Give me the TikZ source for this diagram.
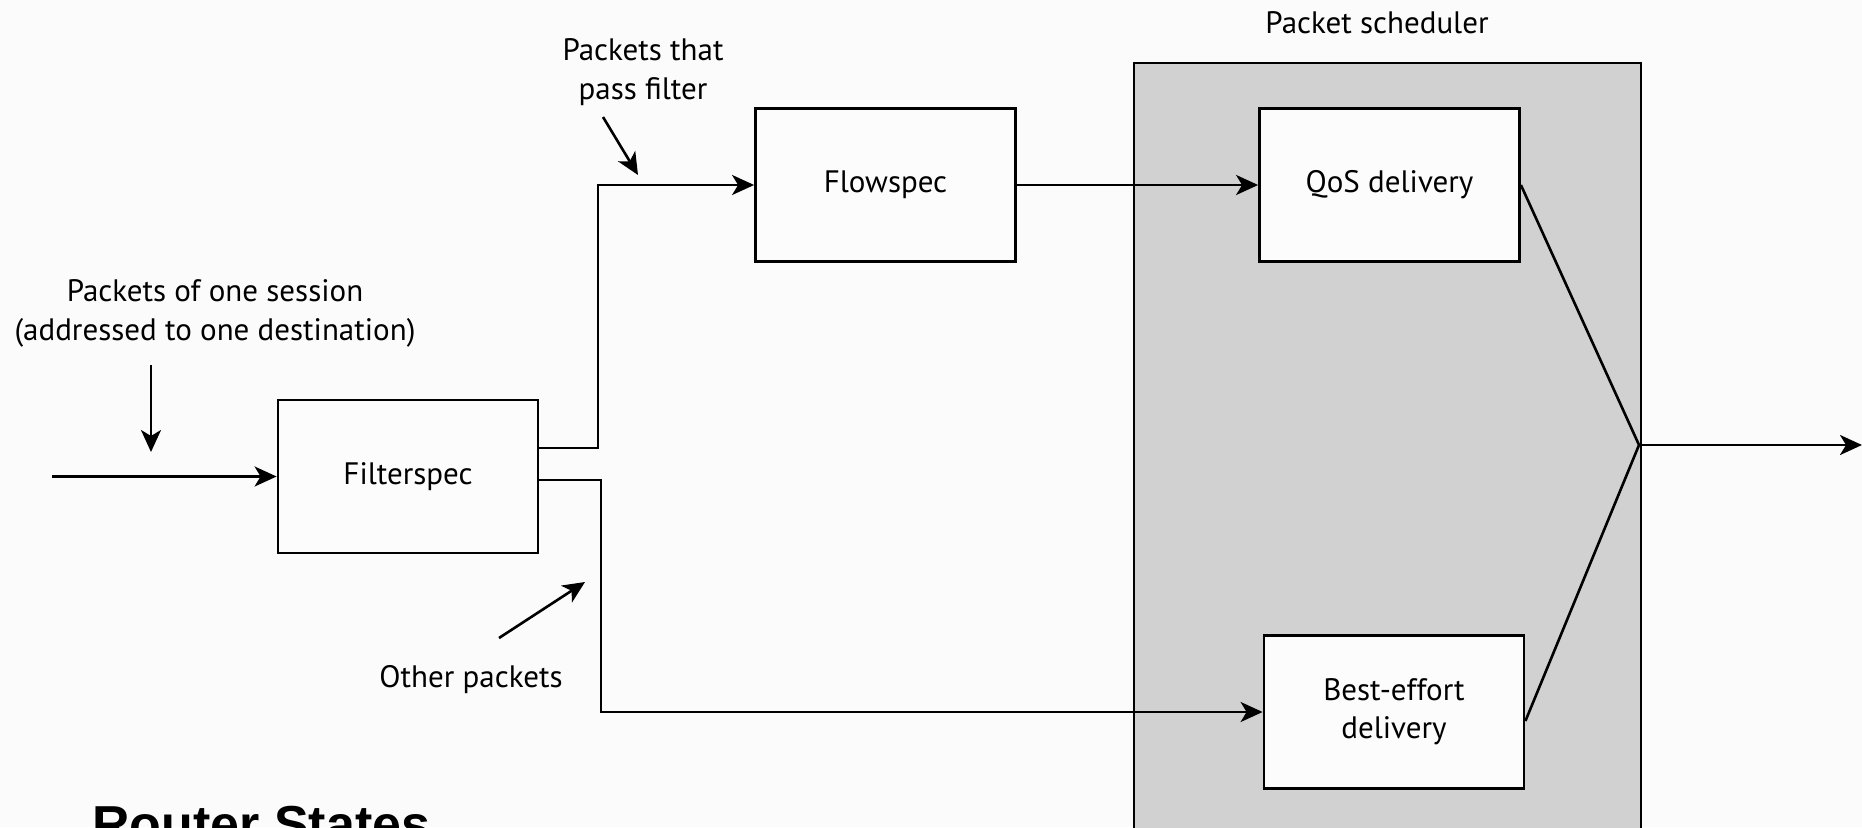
\documentclass[tikz,border=0pt]{standalone}
\usepackage{fontspec}
\setmainfont{PT Sans}
\newfontfamily\titlefont{Liberation Sans}
\usetikzlibrary{arrows.meta}
\begin{document}
\begin{tikzpicture}[x=1pt,y=-1pt,
  box/.style={draw=black, line width=2.8pt, fill=white!99!black, minimum width=260pt, minimum height=153pt, inner sep=0pt, font=\fontsize{31}{38}\selectfont, align=center},
  lbl/.style={font=\fontsize{31}{39}\selectfont, align=center, inner sep=0pt},
  conn/.style={line width=2.6pt},
  arr/.style={conn, -{Stealth[length=22pt,width=20pt,inset=6pt]}}]
\useasboundingbox (0,0) rectangle (1862,827);
\clip (0,0) rectangle (1862,827);
\fill[white!98.5!black] (0,0) rectangle (1862,827);
% packet scheduler area
\draw[fill=black!18, line width=2.6pt] (1134,63) rectangle (1641,860);
\node[lbl] (schedlbl) at (1377,23) {Packet scheduler};
% boxes
\node[box] (filt) at (408,476.5) {Filterspec};
\node[box] (flow) at (885.5,185) {Flowspec};
\node[box] (qos) at (1389.5,185) {QoS delivery};
\node[box] (best) at (1394,712) {Best-effort\\delivery};
% labels
\node[lbl] (sess) at (215,313) {Packets of one session\\(addressed to one destination)};
\node[lbl] (pass) at (643,72) {Packets that\\pass filter};
\node[lbl] (other) at (471,680) {Other packets};
\node[anchor=base west, inner sep=0pt, font=\titlefont\bfseries\fontsize{52}{60}\selectfont] (title) at (92,842) {Router States};
% coordinates
\coordinate (in) at (52,476.5);
\coordinate (d1) at (151,365);
\coordinate (d2) at (151,452);
\coordinate (p1) at (603,117);
\coordinate (p2) at (638,175);
\coordinate (o1) at (499,638);
\coordinate (o2) at (585,582);
\coordinate (junc) at (1639,445);
\coordinate (out) at (1862,445);
% connectors
\draw[arr] (in) -- (filt.west);
\draw[arr] (d1) -- (d2);
\draw[arr] (p1) -- (p2);
\draw[arr] (o1) -- (o2);
\draw[arr] (filt.east |- 0,448) -- (598,448) -- (598,185) -- (flow.west);
\draw[arr] (filt.east |- 0,480) -- (601,480) -- (601,712) -- (best.west);
\draw[arr] (flow.east) -- (qos.west);
\draw[conn] (qos.east) -- (junc) -- ([yshift=-9pt]best.east);
\draw[arr] (junc) -- (out);
\end{tikzpicture}
\end{document}
